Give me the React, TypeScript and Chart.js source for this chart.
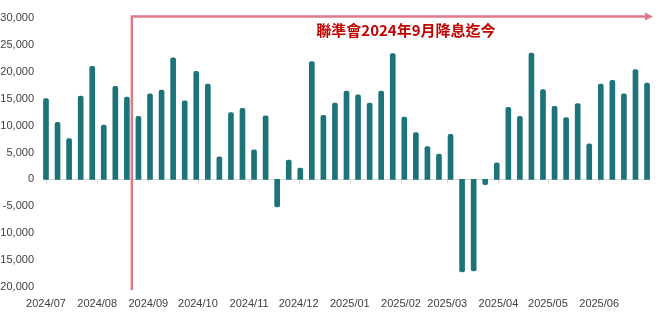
import React, { useEffect, useRef } from "react";
import { Chart, registerables } from "chart.js";

Chart.register(...registerables);

// Weekly series, first week starting 2024-07-01
const firstWeek = "2024-07-01";
const weeklyFlows = [
  15000, 10600, 7600, 15500, 21000, 10100, 17300, 15300, 11700, 15900, 16600,
  22600, 14600, 20100, 17700, 4200, 12400, 13200, 5500, 11800, -5100, 3600,
  2100, 21900, 11900, 14200, 16400, 15700, 14200, 16400, 23400, 11600, 8700,
  6100, 4700, 8400, -17200, -17000, -1000, 3100, 13400, 11700, 23500, 16700,
  13600, 11500, 14100, 6600, 17700, 18400, 15900, 20400, 17900,
];
const monthLabels = [
  "2024/07", "2024/08", "2024/09", "2024/10", "2024/11", "2024/12",
  "2025/01", "2025/02", "2025/03", "2025/04", "2025/05", "2025/06",
];
const yTicks = [-20000, -15000, -10000, -5000, 0, 5000, 10000, 15000, 20000, 25000, 30000];
const annotationText = "聯準會2024年9月降息迄今";
const cutDate = "2024-08-22";
const annotationTextDate = "2025-02-04";

const DAY = 86400000;
const dayOf = (d: string) => (Date.parse(d) - Date.parse(firstWeek)) / DAY;
const weekDays = weeklyFlows.map((_, i) => i * 7);
const monthDays = monthLabels.map((m) => dayOf(m.replace("/", "-") + "-01"));

const BAR = "#1C7378";
const PINK = "#DE7A89";

export default function App() {
  const ref = useRef<HTMLCanvasElement | null>(null);
  useEffect(() => {
    if (!ref.current) return;
    const overlay = {
      id: "overlay",
      beforeDatasetsDraw(chart: any) {
        const { ctx, chartArea, scales } = chart;
        const y0 = Math.round(scales.y.getPixelForValue(0)) + 0.5;
        ctx.save();
        ctx.strokeStyle = "#D9D9D9";
        ctx.lineWidth = 1;
        ctx.beginPath();
        ctx.moveTo(chartArea.left, y0);
        ctx.lineTo(chartArea.right, y0);
        monthDays.forEach((d) => {
          const x = Math.round(scales.x.getPixelForValue(d)) + 0.5;
          ctx.moveTo(x, y0);
          ctx.lineTo(x, y0 + 4);
        });
        ctx.stroke();
        ctx.restore();
      },
      afterDatasetsDraw(chart: any) {
        const { ctx, chartArea, scales } = chart;
        const x = scales.x.getPixelForValue(dayOf(cutDate));
        const top = chartArea.top - 1.5;
        const bottom = chartArea.bottom + 3;
        const right = chartArea.right + 3;
        ctx.save();
        ctx.strokeStyle = PINK;
        ctx.fillStyle = PINK;
        ctx.lineWidth = 2.5;
        ctx.beginPath();
        ctx.moveTo(x, bottom);
        ctx.lineTo(x, top);
        ctx.lineTo(right - 6, top);
        ctx.stroke();
        ctx.beginPath();
        ctx.moveTo(right, top);
        ctx.lineTo(right - 8, top - 4);
        ctx.lineTo(right - 8, top + 4);
        ctx.closePath();
        ctx.fill();
        ctx.fillStyle = "#C00000";
        ctx.font = "bold 15px 'Noto Sans CJK TC', sans-serif";
        ctx.textAlign = "center";
        ctx.textBaseline = "middle";
        ctx.fillText(
          annotationText,
          scales.x.getPixelForValue(dayOf(annotationTextDate)),
          scales.y.getPixelForValue(27800)
        );
        ctx.restore();
      },
    };
    const chart = new Chart(ref.current, {
      type: "bar",
      data: {
        datasets: [
          {
            data: weeklyFlows.map((v, i) => ({ x: weekDays[i], y: v })),
            backgroundColor: BAR,
            barThickness: 5,
            borderRadius: 2,
            clip: false as any,
          },
        ],
      },
      options: {
        animation: false,
        responsive: true,
        maintainAspectRatio: false,
        layout: { padding: { left: 0, right: 21, top: 18, bottom: 0 } },
        plugins: { legend: { display: false }, tooltip: { enabled: false } },
        scales: {
          x: {
            type: "linear",
            offset: false,
            min: -1.2,
            max: 365.8,
            grid: { display: false, drawTicks: false },
            border: { display: false },
            afterBuildTicks: (scale: any) => {
              scale.ticks = monthDays.map((v) => ({ value: v }));
            },
            afterFit: (scale: any) => {
              scale.height = 25;
              scale.paddingLeft = 0;
              scale.paddingRight = 0;
            },
            ticks: {
              autoSkip: false,
              maxRotation: 0,
              padding: 10,
              color: "#404040",
              font: { family: "'Liberation Sans', sans-serif", size: 11 },
              callback: (_v: any, i: number) => monthLabels[i],
            },
          },
          y: {
            min: -20000,
            max: 30000,
            grid: { display: false, drawTicks: false },
            border: { display: false },
            afterBuildTicks: (scale: any) => {
              scale.ticks = yTicks.map((v) => ({ value: v }));
            },
            afterFit: (scale: any) => {
              scale.width = 44;
              scale.paddingTop = 0;
              scale.paddingBottom = 0;
            },
            ticks: {
              padding: 10,
              color: "#404040",
              font: { family: "'Liberation Sans', sans-serif", size: 11 },
              callback: (v: any) => Number(v).toLocaleString("en-US"),
            },
          },
        },
      },
      plugins: [overlay],
    });
    return () => chart.destroy();
  }, []);
  return (
    <div style={{ position: "fixed", left: 0, top: 0, width: 671, height: 312, background: "#fff" }}>
      <canvas ref={ref} />
    </div>
  );
}
